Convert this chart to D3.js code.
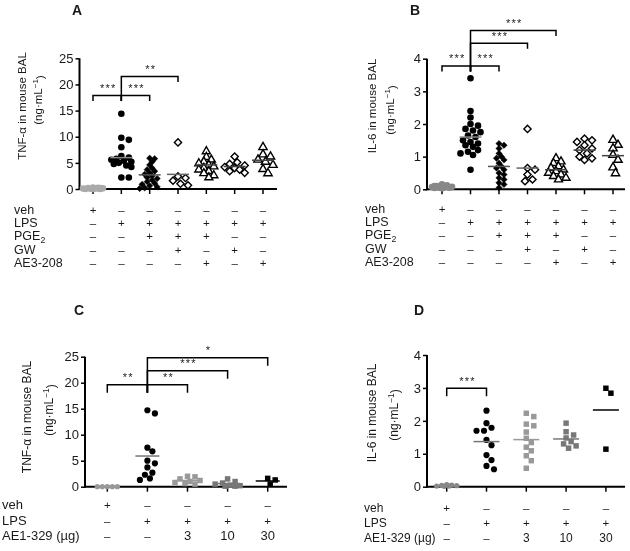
<!DOCTYPE html>
<html><head><meta charset="utf-8">
<script src="https://cdn.jsdelivr.net/npm/d3@7"></script>
<style>body{margin:0;background:#fff}svg{display:block;font-family:"Liberation Sans",Arial,sans-serif;filter:grayscale(1)}</style>
</head><body><svg id="c" width="630" height="551"></svg>
<script>
// ---------------- DATA ----------------
const rowLabelsAB = ["veh", "LPS", "PGE2", "GW", "AE3-208"];
const signsAB = [
  ["+", "–", "–", "–", "–", "–", "–"],
  ["–", "+", "+", "+", "+", "+", "+"],
  ["–", "–", "+", "+", "+", "–", "–"],
  ["–", "–", "–", "+", "–", "+", "–"],
  ["–", "–", "–", "–", "+", "–", "+"]
];
const rowLabelsCD = ["veh", "LPS", "AE1-329 (µg)"];
const signsCD = [
  ["+", "–", "–", "–", "–"],
  ["–", "+", "+", "+", "+"],
  ["–", "–", "3", "10", "30"]
];
const ticksTnf = [0, 5, 10, 15, 20, 25];
const ticksIl6 = [0, 1, 2, 3, 4];

// Panel A: TNF-alpha (ng/mL), 7 groups
const tnfA = [
  [0.3, 0.25, 0.2, 0.15, 0.1, 0.1, 0.05, 0, 0, 0, 0.2, 0.1],
  [14.4, 9.8, 9.4, 8.0, 6.3, 6.0, 5.8, 5.6, 5.4, 5.2, 5.0, 4.8, 4.5, 4.2, 2.2, 2.2],
  [5.9, 5.8, 5.2, 4.6, 4.0, 3.7, 3.4, 3.1, 2.8, 2.5, 2.2, 2.0, 1.7, 1.4, 1.1, 0.9, 0.6, 0.4, 0.2, 0.1],
  [8.9, 2.4, 2.1, 1.6, 1.0, 0.7],
  [7.2, 6.1, 5.6, 5.2, 4.9, 4.6, 4.3, 4.0, 3.7, 3.4, 3.0, 2.6, 2.2],
  [6.2, 5.1, 4.8, 4.5, 4.2, 4.0, 3.7, 3.4, 3.1],
  [8.0, 6.6, 6.2, 5.6, 5.2, 4.6, 3.8, 3.0]
];
const tnfAMeans = [0.1, 6.0, 2.7, 2.8, 4.6, 4.3, 5.5];
const sigA = [[0, 1, 17.9, "***"], [1, 2, 17.9, "***"], [1, 3, 21.5, "**"]];

// Panel B: IL-6 (ng/mL), 7 groups
const il6B = [
  [0.15, 0.12, 0.1, 0.08, 0.07, 0.06, 0.05, 0.05, 0.04, 0.03, 0.1, 0.08],
  [3.4, 2.4, 2.2, 2.0, 1.95, 1.85, 1.8, 1.75, 1.65, 1.6, 1.5, 1.45, 1.4, 1.35, 1.3, 1.2, 1.15, 1.1, 1.05, 0.6],
  [1.4, 1.35, 1.25, 1.1, 1.0, 0.95, 0.9, 0.8, 0.7, 0.65, 0.6, 0.5, 0.45, 0.35, 0.3, 0.2, 0.15, 0.05],
  [1.85, 0.65, 0.6, 0.45, 0.3, 0.25],
  [0.95, 0.85, 0.8, 0.7, 0.65, 0.6, 0.55, 0.5, 0.45, 0.4, 0.35, 0.3],
  [1.55, 1.5, 1.45, 1.35, 1.25, 1.2, 1.1, 1.0, 0.95, 0.9],
  [1.51, 1.36, 1.25, 1.05, 0.9, 0.67, 0.49]
];
const il6BMeans = [0.07, 1.6, 0.7, 0.65, 0.6, 1.2, 1.03];
const sigB = [[0, 1, 3.78, "***"], [1, 2, 3.78, "***"], [1, 3, 4.47, "***"], [1, 4, 4.86, "***"]];

// Panel C: TNF-alpha, 5 groups
const tnfC = [
  [0, 0, 0, 0, 0],
  [14.7, 14.1, 7.5, 6.8, 5.0, 4.5, 3.7, 2.7, 2.3, 1.6, 1.3],
  [2.0, 1.9, 1.5, 1.2, 1.0, 0.8, 0.6, 0.5],
  [1.5, 1.0, 0.7, 0.5, 0.3, 0.2, 0.1, 0.1],
  [1.6, 1.3, 0.5]
];
const tnfCMeans = [0, 5.9, 1.2, 0.6, 1.1];
const sigC = [[0, 1, 19.6, "**"], [1, 2, 19.6, "**"], [1, 3, 22.3, "***"], [1, 4, 24.8, "*"]];

// Panel D: IL-6, 5 groups
const il6D = [
  [0.06, 0.05, 0.04, 0.03, 0.02, 0.02, 0.01],
  [2.31, 1.93, 1.79, 1.70, 1.70, 1.42, 1.26, 0.96, 0.81, 0.63, 0.53],
  [2.23, 2.13, 1.9, 1.85, 1.66, 1.47, 1.34, 1.2, 1.09, 0.94, 0.79, 0.56],
  [1.93, 1.67, 1.57, 1.48, 1.37, 1.30, 1.24, 1.17],
  [2.99, 2.84, 1.14]
];
const il6DMeans = [0.03, 1.37, 1.43, 1.45, 2.33];
const sigD = [[0, 1, 2.99, "***"]];

// ---------------- STYLE / LAYOUT ----------------
const svg = d3.select("#c");
const TXT = "#1a1a1a";
const symbolRhomb = {
  draw(ctx, size) {
    const r = Math.sqrt(size / 2);
    ctx.moveTo(0, -r); ctx.lineTo(r, 0); ctx.lineTo(0, r); ctx.lineTo(-r, 0); ctx.closePath();
  }
};

function swarm(vals, y, cx, minDist, step, maxOff) {
  const placed = [];
  return vals.map(v => {
    const py = y(v);
    let best = 0, bestScore = -1;
    const nMax = Math.floor(maxOff / step);
    for (let k = 0; k <= 2 * nMax; k++) {
      const off = (k % 2 === 1 ? 1 : -1) * Math.ceil(k / 2) * step;
      let md = Infinity;
      placed.forEach(p => { md = Math.min(md, Math.hypot(p[0] - (cx + off), p[1] - py)); });
      if (md >= minDist) { best = off; bestScore = Infinity; break; }
      if (md > bestScore) { bestScore = md; best = off; }
    }
    placed.push([cx + best, py]);
    return [cx + best, py];
  });
}

function panel(cfg) {
  const g = svg.append("g");
  const y = d3.scaleLinear().domain(cfg.domain).range(cfg.yRange);
  const x = d3.scalePoint().domain(d3.range(cfg.data.length)).range(cfg.xRange);

  g.append("text").attr("x", cfg.title[1]).attr("y", cfg.title[2])
    .attr("font-size", 14).attr("font-weight", "bold").attr("fill", TXT).text(cfg.title[0]);

  const ya = g.append("g").attr("transform", `translate(${cfg.axisX},0)`)
    .call(d3.axisLeft(y).tickValues(cfg.ticks).tickSize(4).tickPadding(2).tickFormat(d3.format("d")));
  ya.select(".domain").attr("stroke", "#000").attr("stroke-width", 2).attr("d", `M0,${y(cfg.domain[0]) + 1}V${y(cfg.domain[1])}`);
  ya.selectAll(".tick line").attr("stroke", "#000").attr("stroke-width", 1.5);
  ya.selectAll(".tick text").attr("font-size", 13).attr("fill", TXT).attr("font-family", "Liberation Sans, Arial, sans-serif");

  const x0 = y(0);
  g.append("line").attr("x1", cfg.axisX - 1).attr("x2", cfg.axisEnd).attr("y1", x0).attr("y2", x0)
    .attr("stroke", "#000").attr("stroke-width", 2);
  g.selectAll(".xt").data(d3.range(cfg.data.length)).join("line")
    .attr("x1", d => x(d)).attr("x2", d => x(d)).attr("y1", x0).attr("y2", x0 + 5)
    .attr("stroke", "#000").attr("stroke-width", 1.5);

  const yl = g.append("g").attr("font-size", cfg.labFont).attr("fill", TXT);
  yl.append("text").attr("transform", `translate(${cfg.lab1[0]},${cfg.lab1[1]}) rotate(-90)`)
    .attr("text-anchor", "middle").attr("dy", "0.35em").text(cfg.yLabel);
  const t2 = yl.append("text").attr("transform", `translate(${cfg.lab2[0]},${cfg.lab2[1]}) rotate(-90)`)
    .attr("text-anchor", "middle").attr("dy", "0.35em");
  t2.append("tspan").text("(ng·mL");
  t2.append("tspan").attr("dy", "-0.45em").attr("font-size", cfg.labFont * 0.7).text("−1");
  t2.append("tspan").attr("dy", "0.45em").text(")");

  cfg.data.forEach((vals, i) => {
    const st = cfg.styles[i];
    const pts = swarm(vals, y, x(i), st.d, 2.5, cfg.maxOff);
    const sym = d3.symbol().type(st.type).size(st.size);
    g.append("g").selectAll("path").data(pts).join("path")
      .attr("transform", p => `translate(${p[0]},${p[1]})`)
      .attr("d", sym())
      .attr("fill", st.fill).attr("stroke", st.stroke).attr("stroke-width", st.sw);
    g.append("line").attr("x1", x(i) - cfg.meanHalf).attr("x2", x(i) + cfg.meanHalf)
      .attr("y1", y(cfg.means[i])).attr("y2", y(cfg.means[i]))
      .attr("stroke", st.line).attr("stroke-width", 1.5);
  });

  const legBottom = {};
  cfg.sig.forEach(s => {
    [s[0], s[1]].forEach(c => { legBottom[c] = Math.max(legBottom[c] || -1e9, y(s[2]) + cfg.leg); });
  });
  const bg = g.append("g").attr("stroke", "#000").attr("stroke-width", 1.5).attr("fill", "none");
  cfg.sig.forEach(s => {
    const yy = y(s[2]);
    bg.append("path").attr("d", `M${x(s[0])},${legBottom[s[0]]}V${yy}H${x(s[1])}V${yy + cfg.leg}`);
    g.append("text").attr("x", (x(s[0]) + x(s[1])) / 2 + 1).attr("y", yy - 3.5)
      .attr("text-anchor", "middle").attr("font-size", 11).attr("letter-spacing", 1.2)
      .attr("fill", "#222").text(s[3]);
  });

  const rows = g.append("g").attr("fill", TXT).attr("font-size", cfg.rowFont);
  cfg.rowLabels.forEach((lab, r) => {
    const t = rows.append("text").attr("x", cfg.rowX).attr("y", cfg.rowY[r]);
    if (lab === "PGE2") {
      t.append("tspan").text("PGE");
      t.append("tspan").attr("dy", "0.3em").attr("font-size", cfg.rowFont * 0.7).text("2");
    } else t.text(lab);
    cfg.signs[r].forEach((s, i) => {
      rows.append("text").attr("x", x(i)).attr("y", cfg.rowY[r]).attr("text-anchor", "middle")
        .attr("font-size", (s === "+" || s === "–") ? 11.5 : cfg.rowFont).text(s);
    });
  });
}

const circ = (fill, d) => ({ type: d3.symbolCircle, size: Math.PI * 3.3 * 3.3, fill, stroke: "none", sw: 0, d: d || 5.5 });
const stAB = (veh) => [
  Object.assign(circ(veh, 3), { line: veh }),
  Object.assign(circ("#000", 5.5), { line: "#888" }),
  { type: symbolRhomb, size: 20, fill: "#000", stroke: "#000", sw: 0.5, d: 4, line: "#555" },
  { type: symbolRhomb, size: 26, fill: "#fff", stroke: "#000", sw: 1.4, d: 6, line: "#666" },
  { type: d3.symbolTriangle, size: 28, fill: "#fff", stroke: "#000", sw: 1.4, d: 5, line: "#444" },
  { type: symbolRhomb, size: 26, fill: "#fff", stroke: "#000", sw: 1.4, d: 6, line: "#444" },
  { type: d3.symbolTriangle, size: 30, fill: "#fff", stroke: "#000", sw: 1.4, d: 6, line: "#444" }
];
const sq = (fill, line) => ({ type: d3.symbolSquare, size: 30, fill, stroke: "none", sw: 0, d: 6, line });
const stCD = (veh) => [
  Object.assign(circ(veh, 4), { line: veh, size: 22 }),
  Object.assign(circ("#000", 6), { line: "#777", size: Math.PI * 3.1 * 3.1 }),
  sq("#999", "#999"), sq("#777", "#777"), sq("#000", "#000")
];

panel({
  title: ["A", 72, 15], data: tnfA, means: tnfAMeans, sig: sigA, styles: stAB("#aaa"),
  domain: [0, 25], yRange: [189, 58.3], ticks: ticksTnf, xRange: [93, 263], axisX: 79.5, axisEnd: 277,
  yLabel: "TNF-α in mouse BAL", labFont: 11.5, lab1: [22, 106], lab2: [38, 100],
  maxOff: 12, meanHalf: 11, leg: 5.5,
  rowLabels: rowLabelsAB, signs: signsAB, rowX: 14, rowY: [214, 227, 240, 253.5, 267], rowFont: 12.5
});
panel({
  title: ["B", 410, 15], data: il6B, means: il6BMeans, sig: sigB, styles: stAB("#888"),
  domain: [0, 4], yRange: [189.3, 58.7], ticks: ticksIl6, xRange: [442, 613], axisX: 427, axisEnd: 625,
  yLabel: "IL-6 in mouse BAL", labFont: 11.5, lab1: [372, 106], lab2: [390, 110],
  maxOff: 12, meanHalf: 11, leg: 5.5,
  rowLabels: rowLabelsAB, signs: signsAB, rowX: 365, rowY: [213, 226, 239, 252.5, 266], rowFont: 12.5
});
panel({
  title: ["C", 74, 315], data: tnfC, means: tnfCMeans, sig: sigC, styles: stCD("#999"),
  domain: [0, 25], yRange: [486.7, 356.7], ticks: ticksTnf, xRange: [107.3, 267.7], axisX: 85, axisEnd: 287,
  yLabel: "TNF-α in mouse BAL", labFont: 12, lab1: [27, 417], lab2: [49, 410],
  maxOff: 14, meanHalf: 12, leg: 8,
  rowLabels: rowLabelsCD, signs: signsCD, rowX: 2, rowY: [509, 525, 540], rowFont: 13
});
panel({
  title: ["D", 414, 315], data: il6D, means: il6DMeans, sig: sigD, styles: stCD("#888"),
  domain: [0, 4], yRange: [486.7, 355], ticks: ticksIl6, xRange: [446.7, 605.9], axisX: 427, axisEnd: 625,
  yLabel: "IL-6 in mouse BAL", labFont: 12, lab1: [372, 413], lab2: [393.5, 415],
  maxOff: 14, meanHalf: 13, leg: 8,
  rowLabels: rowLabelsCD, signs: signsCD, rowX: 364, rowY: [512, 527, 542], rowFont: 12
});
</script></body></html>
